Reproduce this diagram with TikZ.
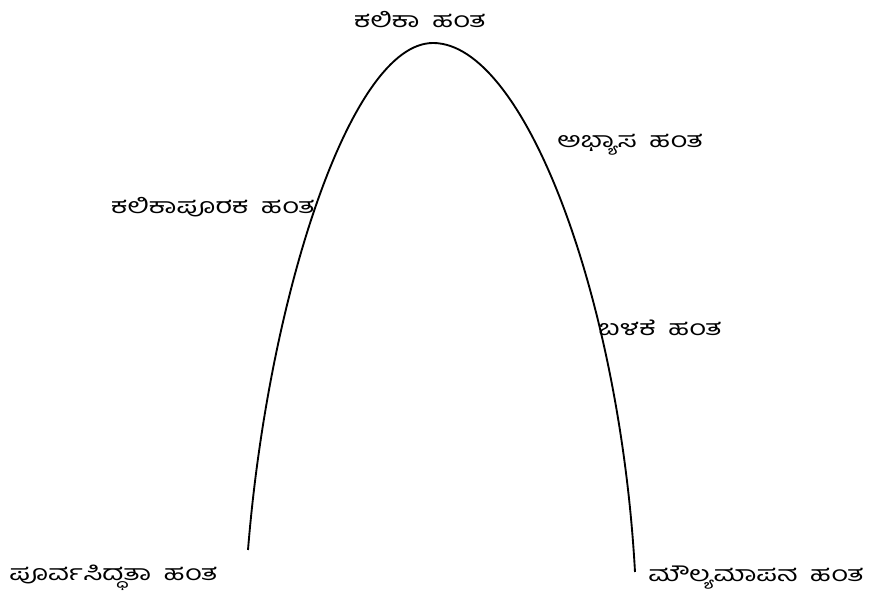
\documentclass[tikz,border=0pt]{standalone}
\usepackage{fontspec}
\usepackage{tikz}
\usetikzlibrary{positioning,calc}
\newfontfamily\kannadafont[Script=Kannada,FakeStretch=1.35,WordSpace=1.8]{Hind Mysuru}
\definecolor{ink}{HTML}{000000}
\tikzset{
  phaselabel/.style={font=\kannadafont\fontsize{16pt}{18pt}\selectfont,
                     inner sep=0pt,text=ink},
  curveline/.style={draw=ink,line width=1.4pt}
}
\begin{document}
\begin{tikzpicture}[x=0.75pt,y=-0.75pt]
      \useasboundingbox (0,0) rectangle (869,602);
      % ends and top of the curve
      \coordinate (start) at (248,550);
      \coordinate (top) at (433,43);
      \coordinate (finish) at (635,572);
      \draw[curveline] (start) .. controls (268,300) and (350,43) .. (top)
                               .. controls (525,43) and (620,300) .. (finish);
      % phase names
      \node[phaselabel] (learn) at (420,20) {ಕಲಿಕಾ ಹಂತ};
      \node[phaselabel,anchor=west] (practice) at (557,145) {ಅಭ್ಯಾಸ ಹಂತ};
      \node[phaselabel,anchor=east] (support) at (315,207) {ಕಲಿಕಾಪೂರಕ ಹಂತ};
      \node[phaselabel,anchor=west] (use) at (598,328) {ಬಳಕೆ ಹಂತ};
      \node[phaselabel,anchor=west] (prep) at (9,578) {ಪೂರ್ವಸಿದ್ಧತಾ ಹಂತ};
      \node[phaselabel,anchor=west] (eval) at (648,578) {ಮೌಲ್ಯಮಾಪನ ಹಂತ};
    \end{tikzpicture}
\end{document}
